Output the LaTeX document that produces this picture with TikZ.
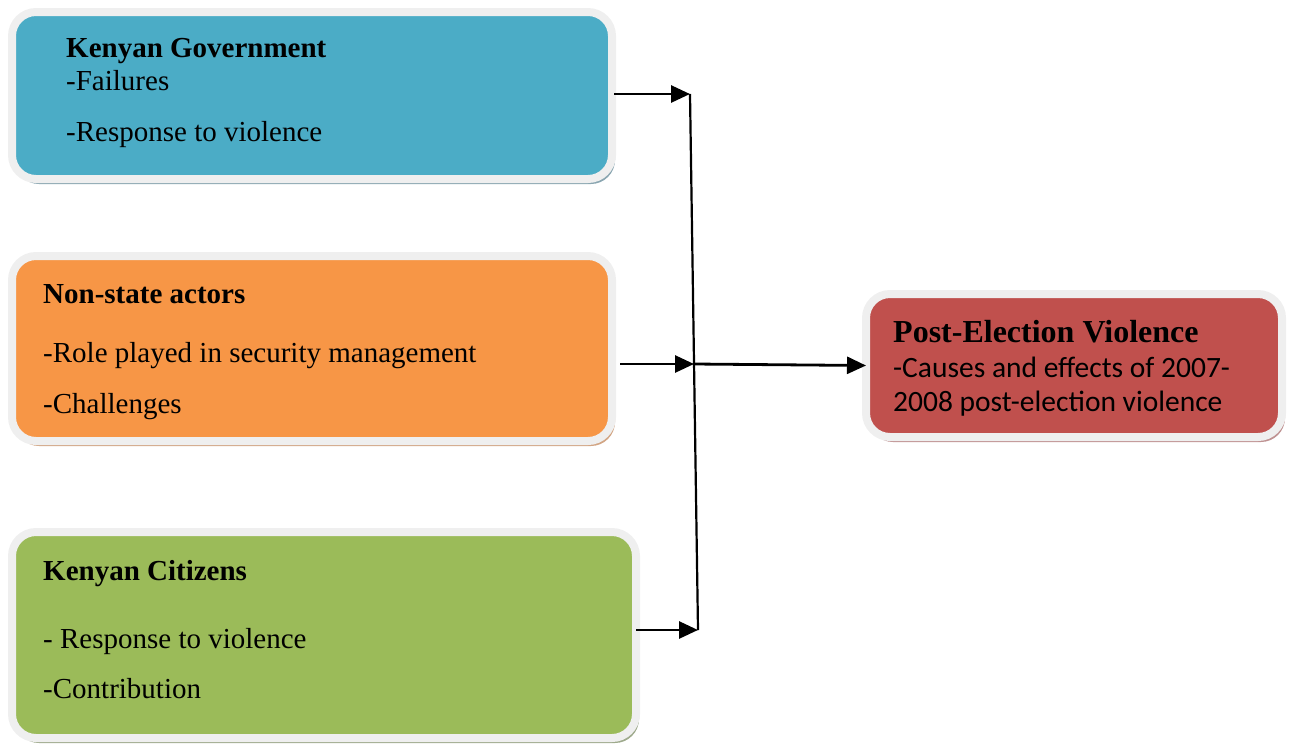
\documentclass[tikz,border=0pt]{standalone}
\usepackage{fontspec}
\setmainfont{Liberation Serif}
\newfontfamily\calfont{Carlito}
\usetikzlibrary{arrows.meta,shadows}
\definecolor{cblue}{HTML}{4BACC6}
\definecolor{corange}{HTML}{F79646}
\definecolor{cgreen}{HTML}{9BBB59}
\definecolor{cred}{HTML}{C0504D}
\definecolor{rimgray}{HTML}{EFEFEF}
\definecolor{sblue}{HTML}{8AA6B1}
\definecolor{sorange}{HTML}{D2A584}
\definecolor{sgreen}{HTML}{9EAA8C}
\definecolor{sred}{HTML}{BF9292}
\tikzset{
  box/.style={draw=rimgray, line width=8pt, rounded corners=24pt, inner sep=0pt, outer sep=0pt},
  shad/.style={drop shadow={shadow xshift=3pt, shadow yshift=-5pt, fill=#1, opacity=1}},
  txt/.style={anchor=base west, inner sep=0pt, font=\fontsize{29}{34}\selectfont},
  hd/.style={anchor=base west, inner sep=0pt, font=\fontsize{29}{34}\selectfont\bfseries},
  conn/.style={line width=2.8pt, -{Triangle[length=19pt,width=17pt]}},
  vline/.style={line width=2.2pt}
}
\begin{document}
\begin{tikzpicture}[x=1pt,y=-1pt]
\useasboundingbox (0,0) rectangle (1290,745);
% boxes
\node[box, shad=sblue, fill=cblue, minimum width=600pt, minimum height=167pt] (gov) at (312,95.5) {};
\node[box, shad=sorange, fill=corange, minimum width=600pt, minimum height=185pt] (nsa) at (312,348.5) {};
\node[box, shad=sgreen, fill=cgreen, minimum width=624pt, minimum height=206pt] (cit) at (324,635) {};
\node[box, shad=sred, fill=cred, minimum width=416pt, minimum height=143pt] (pev) at (1074,365.5) {};
% texts
\node[hd] (govh) at (66,57) {Kenyan Government};
\node[txt] (gov1) at (66,90) {-Failures};
\node[txt] (gov2) at (66,141) {-Response to violence};
\node[hd] (nsah) at (43,303) {Non-state actors};
\node[txt] (nsa1) at (43,362) {-Role played in security management};
\node[txt] (nsa2) at (43,413) {-Challenges};
\node[hd] (cith) at (43,580) {Kenyan Citizens};
\node[txt] (cit1) at (43,648) {- Response to violence};
\node[txt] (cit2) at (43,698) {-Contribution};
\node[anchor=base west, inner sep=0pt, font=\fontsize{32}{36}\selectfont\bfseries] (pevh) at (893,342) {Post-Election Violence};
\node[anchor=base west, inner sep=0pt, font=\calfont\fontsize{29.5}{34}\selectfont] (pev1) at (893,377) {-Causes and effects of 2007-};
\node[anchor=base west, inner sep=0pt, font=\calfont\fontsize{29.5}{34}\selectfont] (pev2) at (893,411) {2008 post-election violence};
% connectors
\coordinate (jt) at (690,94);
\coordinate (jm) at (694,364);
\coordinate (jb) at (698,630);
\coordinate (gs) at (614,94);
\coordinate (ns) at (620,364);
\coordinate (cs) at (636,630);
\draw[conn] (gs) -- (jt);
\draw[conn] (ns) -- (jm);
\draw[conn] (cs) -- (jb);
\draw[vline] (jt) -- (jb);
\draw[conn] (jm) -- (pev.west);
\end{tikzpicture}
\end{document}
